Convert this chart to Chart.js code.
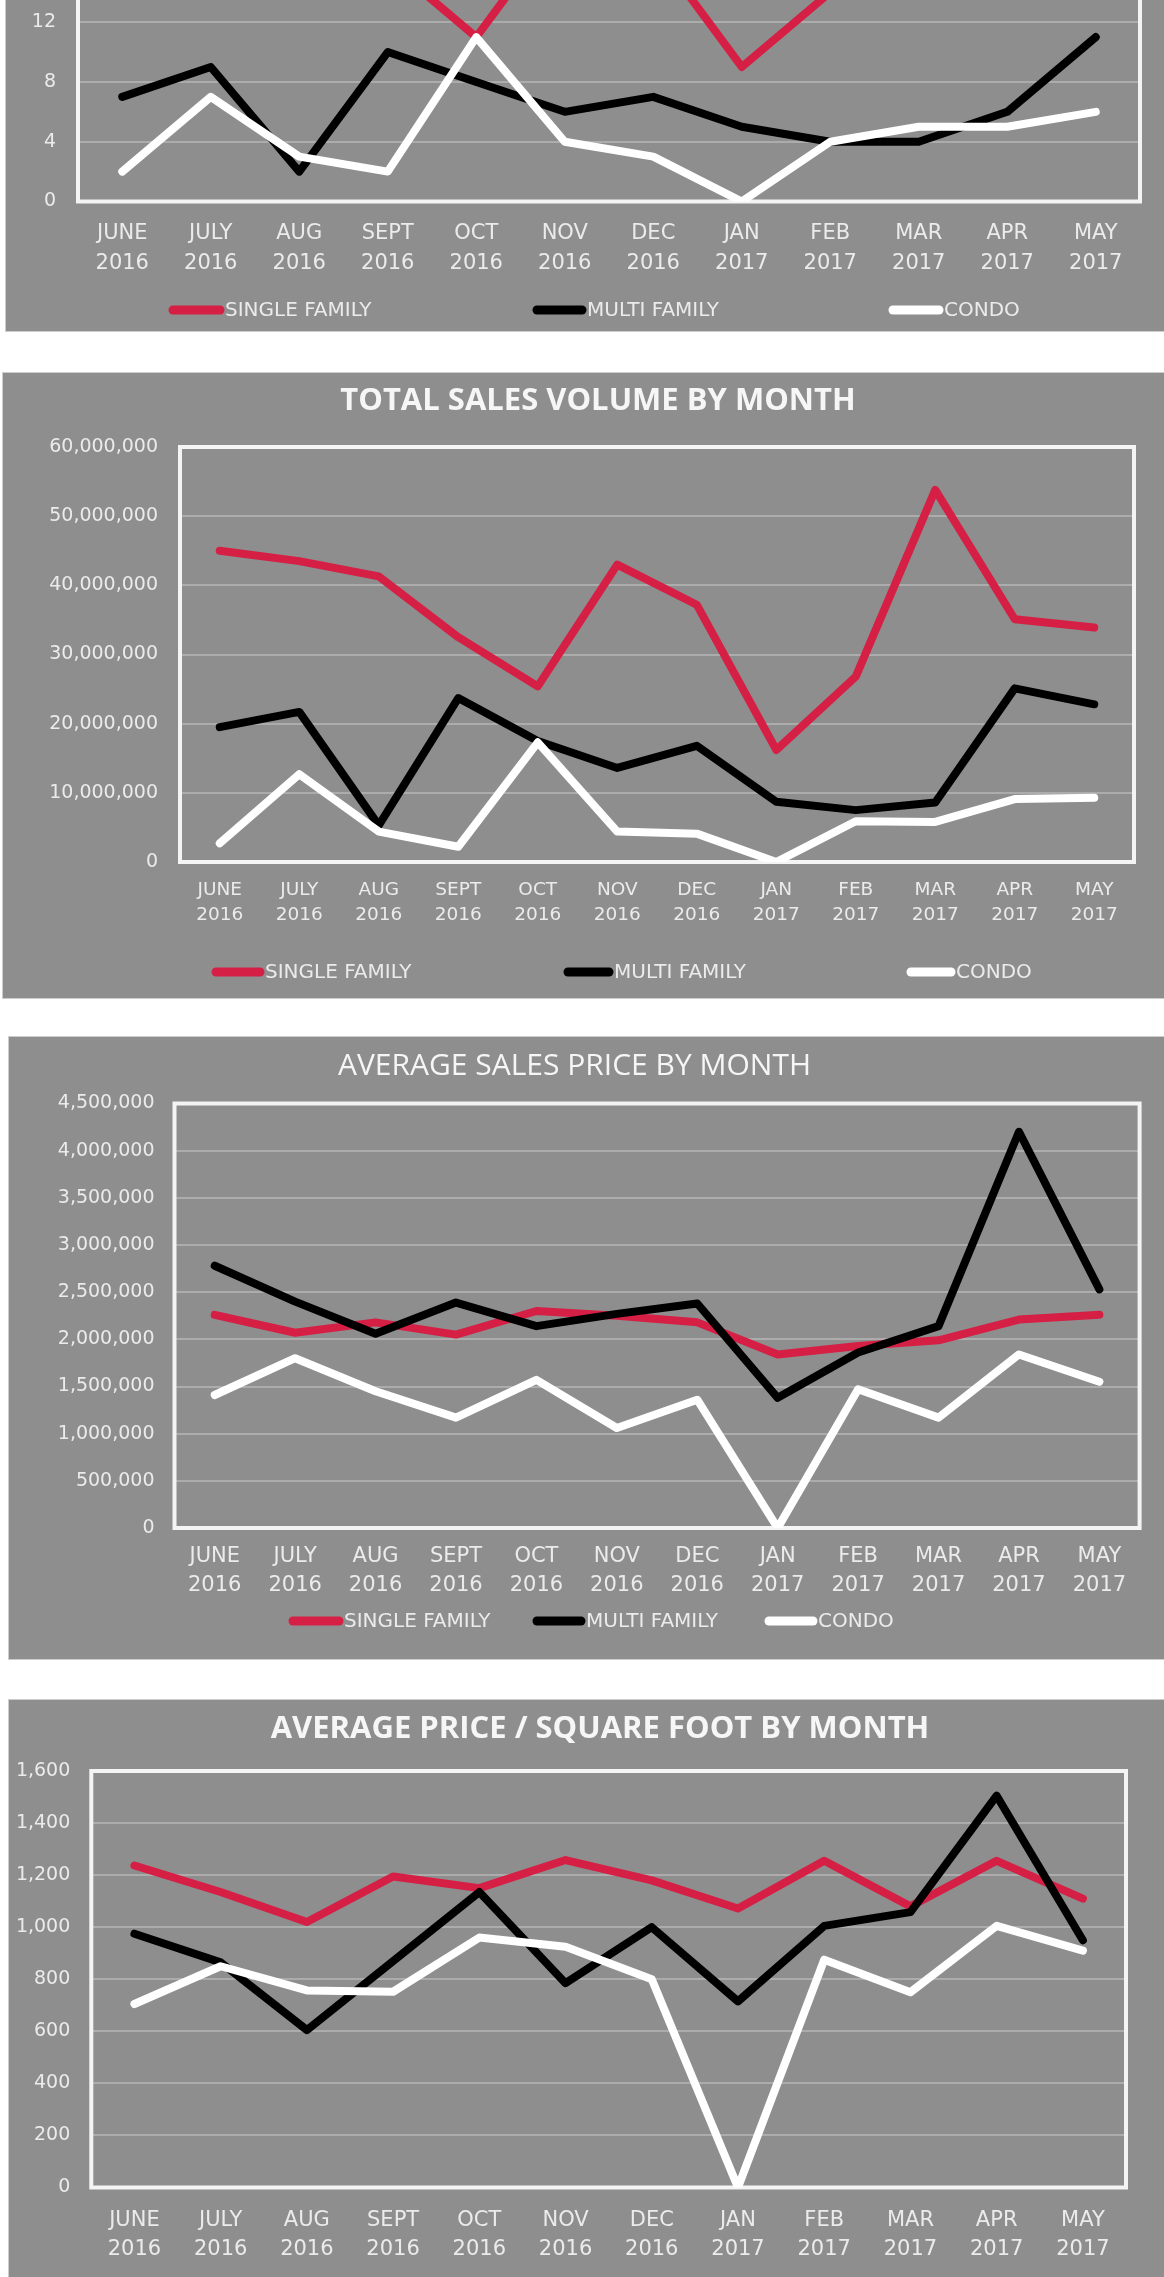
<!DOCTYPE html>
<html>
<head>
<meta charset="utf-8">
<title>Monthly Sales Charts</title>
<script src="https://cdn.jsdelivr.net/npm/chart.js@4.4.1/dist/chart.umd.min.js"></script>
<style>
  html, body { margin: 0; padding: 0; background: #fff; width: 1164px; height: 2277px; overflow: hidden; position: relative; }
  .panel { position: absolute; background: #8e8e8e; outline: 1px solid #cdcdcd; }
  .panel canvas { display: block; }
</style>
</head>
<body>

<div class="panel" style="left:6px; top:-294px; width:1158px; height:625px;"><canvas id="salesChart" width="1158" height="625"></canvas></div>
<div class="panel" style="left:3px; top:373px; width:1161px; height:625px;"><canvas id="volumeChart" width="1161" height="625"></canvas></div>
<div class="panel" style="left:9px; top:1037px; width:1155px; height:622px;"><canvas id="priceChart" width="1155" height="622"></canvas></div>
<div class="panel" style="left:9px; top:1700px; width:1155px; height:625px;"><canvas id="sqftChart" width="1155" height="625"></canvas></div>

<script>
// ---------------- Data ----------------
const months = ["JUNE", "JULY", "AUG", "SEPT", "OCT", "NOV", "DEC", "JAN", "FEB", "MAR", "APR", "MAY"];
const years = ["2016", "2016", "2016", "2016", "2016", "2016", "2016", "2017", "2017", "2017", "2017", "2017"];
const seriesNames = ["SINGLE FAMILY", "MULTI FAMILY", "CONDO"];

// number of sales
const salesSingle = [20, 21, 19, 16, 11, 19, 17, 9, 14, 27, 16, 15];
const salesMulti  = [7, 9, 2, 10, 8, 6, 7, 5, 4, 4, 6, 11];
const salesCondo  = [2, 7, 3, 2, 11, 4, 3, 0, 4, 5, 5, 6];

// total sales volume
const volumeSingle = [45000000, 43500000, 41300000, 32500000, 25400000, 43000000, 37200000, 16200000, 26800000, 53800000, 35100000, 33900000];
const volumeMulti  = [19500000, 21700000, 5300000, 23700000, 17500000, 13600000, 16800000, 8700000, 7500000, 8600000, 25100000, 22800000];
const volumeCondo  = [2700000, 12700000, 4400000, 2200000, 17300000, 4400000, 4100000, 0, 5900000, 5800000, 9100000, 9300000];

// average sales price
const priceSingle = [2260000, 2070000, 2180000, 2050000, 2300000, 2250000, 2180000, 1840000, 1930000, 1990000, 2210000, 2260000];
const priceMulti  = [2780000, 2400000, 2060000, 2390000, 2140000, 2270000, 2380000, 1380000, 1860000, 2140000, 4200000, 2530000];
const priceCondo  = [1410000, 1800000, 1450000, 1170000, 1570000, 1060000, 1360000, 0, 1470000, 1170000, 1840000, 1550000];

// average price per square foot
const sqftSingle = [1237, 1135, 1020, 1195, 1150, 1258, 1180, 1072, 1255, 1080, 1255, 1110];
const sqftMulti  = [975, 865, 605, 870, 1135, 785, 1000, 715, 1005, 1058, 1505, 950];
const sqftCondo  = [705, 850, 757, 752, 960, 925, 800, 0, 875, 750, 1005, 910];

// ---------------- Styles ----------------
const seriesColors = ["#d61f45", "#000000", "#ffffff"];
const textColor = "#ebebeb";
const gridColor = "#acacac";
const frameColor = "#f4f4f4";
const labelFamily = "'DejaVu Sans', sans-serif";
const titleFamily = "'Open Sans', sans-serif";

const monthLabels = months.map((m, i) => [m, years[i]]);

// frame around plot, title and legend drawn in Excel style
const excelDecor = {
  id: "excelDecor",
  beforeDatasetsDraw(chart) {
    const a = chart.chartArea;
    const ctx = chart.ctx;
    ctx.save();
    ctx.strokeStyle = frameColor;
    ctx.lineWidth = 4;
    ctx.strokeRect(a.left, a.top, a.right - a.left, a.bottom - a.top);
    ctx.restore();
  },
  afterDraw(chart, args, opts) {
    const ctx = chart.ctx;
    ctx.save();
    ctx.fillStyle = "#f6f6f6";
    ctx.font = opts.titleFont;
    ctx.textAlign = "center";
    ctx.textBaseline = "middle";
    ctx.fillText(opts.title, opts.titleX, opts.titleY);

    ctx.font = "20px " + labelFamily;
    ctx.textAlign = "left";
    chart.data.datasets.forEach((ds, i) => {
      const item = opts.legend[i];
      ctx.strokeStyle = ds.borderColor;
      ctx.lineWidth = 9;
      ctx.lineCap = "round";
      ctx.beginPath();
      ctx.moveTo(item[0] + 4, opts.legendY);
      ctx.lineTo(item[1] - 4, opts.legendY);
      ctx.stroke();
      ctx.fillStyle = textColor;
      ctx.fillText(ds.label, item[1] + 1, opts.legendY + 1);
    });
    ctx.restore();
  }
};

// ---------------- Build a chart ----------------
function makeChart(id, values, box) {
  const canvas = document.getElementById(id);
  const W = canvas.width, H = canvas.height;
  const xAxisHeight = 80;

  return new Chart(canvas.getContext("2d"), {
    type: "line",
    data: {
      labels: monthLabels,
      datasets: values.map((v, i) => ({
        label: seriesNames[i],
        data: v,
        borderColor: seriesColors[i],
        backgroundColor: seriesColors[i],
        borderWidth: 8,
        pointRadius: 0,
        pointHoverRadius: 0,
        tension: 0,
        fill: false,
        borderJoinStyle: "round",
        borderCapStyle: "round",
        order: 2 - i
      }))
    },
    options: {
      responsive: false,
      animation: false,
      layout: {
        padding: {
          left: 0,
          right: W - box.plotRight,
          top: box.plotTop,
          bottom: H - box.plotBottom - xAxisHeight
        }
      },
      plugins: {
        legend: { display: false },
        title: { display: false },
        tooltip: { enabled: false },
        excelDecor: {
          title: box.title,
          titleFont: box.titleFont,
          titleX: box.titleX,
          titleY: box.titleY,
          legendY: box.legendY,
          legend: box.legend
        }
      },
      scales: {
        x: {
          offset: true,
          grid: { display: false, drawTicks: false },
          border: { display: false },
          ticks: {
            color: textColor,
            autoSkip: false,
            maxRotation: 0,
            padding: box.xPad,
            font: { family: labelFamily, size: box.xFont, lineHeight: box.xLine / box.xFont }
          },
          afterFit(scale) { scale.height = xAxisHeight; }
        },
        y: {
          min: 0,
          max: box.yMax,
          grid: { color: gridColor, lineWidth: 2, drawTicks: false },
          border: { display: false },
          ticks: {
            stepSize: box.yStep,
            color: textColor,
            padding: box.yPad,
            font: { family: labelFamily, size: 19 },
            callback: v => v.toLocaleString("en-US")
          },
          afterFit(scale) { scale.width = box.plotLeft; }
        }
      }
    },
    plugins: [excelDecor]
  });
}

// ---------------- Charts ----------------
makeChart("salesChart", [salesSingle, salesMulti, salesCondo], {
  plotLeft: 72, plotRight: 1134, plotTop: 77, plotBottom: 495.5,
  yMax: 28, yStep: 4, yPad: 22,
  xFont: 21, xLine: 30, xPad: 17,
  title: "NUMBER OF SALES BY MONTH", titleFont: "bold 31px " + titleFamily, titleX: 590, titleY: 28,
  legendY: 604, legend: [[163, 218], [527, 580], [883, 937]]
});

makeChart("volumeChart", [volumeSingle, volumeMulti, volumeCondo], {
  plotLeft: 177, plotRight: 1131, plotTop: 74, plotBottom: 489,
  yMax: 60000000, yStep: 10000000, yPad: 22,
  xFont: 18.5, xLine: 24.4, xPad: 16.4,
  title: "TOTAL SALES VOLUME BY MONTH", titleFont: "bold 31px " + titleFamily, titleX: 595, titleY: 28,
  legendY: 599, legend: [[209, 261], [561, 610], [904, 952]]
});

makeChart("priceChart", [priceSingle, priceMulti, priceCondo], {
  plotLeft: 165.5, plotRight: 1130.6, plotTop: 66.5, plotBottom: 491,
  yMax: 4500000, yStep: 500000, yPad: 20,
  xFont: 21, xLine: 28.5, xPad: 14.3,
  title: "AVERAGE SALES PRICE BY MONTH", titleFont: "30px " + titleFamily, titleX: 565.5, titleY: 29,
  legendY: 584, legend: [[280, 334], [524, 576], [756, 808]]
});

makeChart("sqftChart", [sqftSingle, sqftMulti, sqftCondo], {
  plotLeft: 82.3, plotRight: 1117, plotTop: 71, plotBottom: 487.5,
  yMax: 1600, yStep: 200, yPad: 21,
  xFont: 21, xLine: 28.7, xPad: 18.6,
  title: "AVERAGE PRICE / SQUARE FOOT BY MONTH", titleFont: "bold 31px " + titleFamily, titleX: 591, titleY: 28.8,
  legendY: 600, legend: [[280, 334], [524, 576], [756, 808]]
});
</script>
</body>
</html>
